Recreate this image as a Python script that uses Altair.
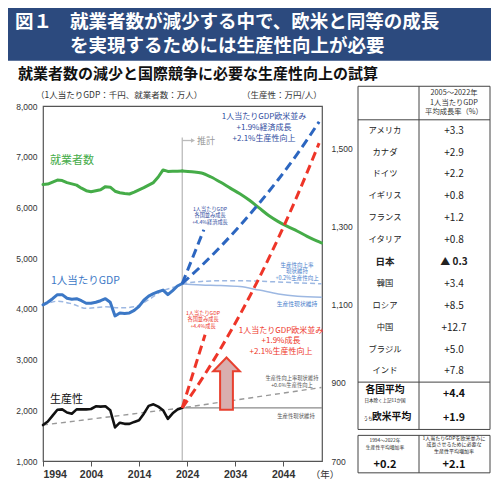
import altair as alt
import pandas as pd

# ---------------- data ----------------
years_actual = list(range(1994, 2024))
employment = [6450, 6460, 6500, 6540, 6530, 6490, 6465, 6440, 6380, 6330,
              6310, 6330, 6350, 6410, 6400, 6320, 6290, 6275, 6265, 6300,
              6345, 6390, 6440, 6490, 6600, 6740, 6710, 6715, 6715, 6720]
gdp_per_capita = [4080, 4130, 4200, 4280, 4280, 4210, 4190, 4200, 4160, 4110,
                  4110, 4130, 4160, 4200, 4130, 3860, 3920, 3910, 3920, 3970,
                  4050, 4170, 4250, 4300, 4340, 4370, 4280, 4360, 4450, 4500]
productivity = [792, 801, 816, 831, 832, 824, 821, 832, 832, 832,
                833, 840, 839, 840, 830, 786, 798, 795, 795, 800,
                804, 821, 841, 845, 839, 830, 808, 822, 832, 836]

trend_years = [1994, 1997, 2000, 2003, 2007, 2010, 2013, 2016, 2019, 2021, 2023]
gdp_trend = [4065, 4150, 4100, 4010, 4040, 4020, 4040, 4180, 4360, 4420, 4500]

emp_proj_years = [2023, 2025, 2027, 2029, 2031, 2033, 2035, 2037, 2039, 2041,
                  2043, 2045, 2047, 2049, 2051, 2052]
employment_proj = [6720, 6705, 6680, 6600, 6495, 6380, 6270, 6140, 5990, 5840,
                   5720, 5620, 5530, 5430, 5340, 5300]

west_years = [2023, 2027, 2031, 2035, 2039, 2043, 2047, 2051.5]
gdp_west = [4500, 4850, 5230, 5640, 6080, 6550, 7060, 7690]
prod_west = [836, 908, 988, 1074, 1168, 1270, 1380, 1513]

fast_years_gdp = [2023, 2027.5]
gdp_fast = [4500, 5560]
fast_years_prod = [2023, 2027.75]
prod_fast = [836, 1023]

flat_years = [2023, 2027, 2031, 2035, 2039, 2043, 2047, 2052]
gdp_prod_plus02 = [4500, 4540, 4555, 4555, 4545, 4530, 4512, 4495]
gdp_prod_flat = [4490, 4472, 4460, 4440, 4370, 4295, 4250, 4230]

prod_trend_years = [1994, 2023, 2052]
prod_trend = [792, 836, 888]
prod_flat_years = [2023, 2052]
prod_flat = [836, 836]

countries = ["アメリカ", "カナダ", "ドイツ", "イギリス", "フランス", "イタリア",
             "日本", "韓国", "ロシア", "中国", "ブラジル", "インド"]
growth = [3.3, 2.9, 2.2, 0.8, 1.2, 0.8, -0.3, 3.4, 8.5, 12.7, 5.0, 7.8]
avg_all = 4.4
avg_west = 1.9
prod_growth_past = 0.2
prod_growth_needed = 2.1

# ---------------- layout helpers ----------------
W, H = 279, 355
X0, Y0 = 43, 108
SY = H / 360.0
JP = "Noto Sans CJK JP"
LAT = "Liberation Sans"


def px(x):
    return x - X0


def py(y):
    return (y - Y0) * SY


XS = alt.Scale(domain=[1994, 2052.1], nice=False, zero=False)
YL = alt.Scale(domain=[1000, 8000], nice=False, zero=False)
YR = alt.Scale(domain=[700, 1608], nice=False, zero=False)

x_axis = alt.Axis(values=[1994, 2004, 2014, 2024, 2034, 2044], format="d",
                  labelFont=LAT, labelFontSize=10.5, labelFontWeight="bold",
                  labelColor="#333", tickSize=5, tickColor="#555",
                  domain=False, grid=False, labelPadding=3, title=None,
                  orient="bottom")
yl_axis = alt.Axis(values=list(range(1000, 9000, 1000)), format=",.0f",
                   labelFont=LAT, labelFontSize=8.5, labelColor="#333",
                   ticks=False, domain=False, grid=False, labelPadding=6,
                   title=None, orient="left")
yr_axis = alt.Axis(values=[700, 900, 1100, 1300, 1500], format=",.0f",
                   labelFont=LAT, labelFontSize=8.5, labelColor="#333",
                   ticks=False, domain=False, grid=False, labelPadding=9,
                   title=None, orient="right")

DUMMY = alt.Data(values=[{}])


def series(xs, ys, yscale, color, width, dash=None, interp="linear",
           yaxis=None):
    df = pd.DataFrame({"year": xs, "value": ys})
    mk = dict(color=color, strokeWidth=width, interpolate=interp,
              strokeJoin="round")
    if dash:
        mk["strokeDash"] = dash
        mk["strokeCap"] = "butt"
    else:
        mk["strokeCap"] = "round"
    return alt.Chart(df).mark_line(**mk).encode(
        x=alt.X("year:Q", scale=XS, axis=x_axis),
        y=alt.Y("value:Q", scale=yscale, axis=yaxis),
    )


def note(lines, x, y, size, color, align="center", weight="normal",
         lh=None, font=JP):
    """y is the centre of the (first) line, in reference page pixels."""
    kw = dict(align=align, baseline="middle", fontSize=size, color=color,
              font=font, fontWeight=weight)
    if isinstance(lines, list):
        kw["text"] = lines
        kw["lineHeight"] = (lh if lh else size * 1.25) * SY
    else:
        kw["text"] = lines
    return alt.Chart(DUMMY).mark_text(**kw).encode(
        x=alt.value(px(x)), y=alt.value(py(y)))


def box(x1, y1, x2, y2, fill, stroke=None, sw=1.0):
    kw = dict(fill=fill)
    if stroke:
        kw["stroke"] = stroke
        kw["strokeWidth"] = sw
    return alt.Chart(DUMMY).mark_rect(**kw).encode(
        x=alt.value(px(x1)), x2=alt.value(px(x2)),
        y=alt.value(py(y1)), y2=alt.value(py(y2)))


def hline(x1, x2, y, color="#444", sw=1.0):
    return alt.Chart(DUMMY).mark_rule(color=color, strokeWidth=sw).encode(
        x=alt.value(px(x1)), x2=alt.value(px(x2)), y=alt.value(py(y)))


def vline(x, y1, y2, color="#444", sw=1.0):
    return alt.Chart(DUMMY).mark_rule(color=color, strokeWidth=sw).encode(
        x=alt.value(px(x)), y=alt.value(py(y1)), y2=alt.value(py(y2)))


GREEN = "#45AC48"
BLUE = "#3C78C6"
DBLUE = "#2C66C0"
LBLUE = "#9DB8E2"
RED = "#EE3528"
NAVY = "#2F4B9E"

layers = []

# --- projection start marker ---
pivot = pd.DataFrame({"year": [2023]})
layers.append(alt.Chart(pivot).mark_rule(color="#BBBBBB", strokeWidth=1.3).encode(
    x=alt.X("year:Q", scale=XS, axis=x_axis),
    y=alt.value(py(140)), y2=alt.value(H)))
layers.append(hline(182, 192, 143, color="#BBBBBB", sw=1.3))
layers.append(alt.Chart(DUMMY).mark_point(shape="triangle-right", size=22,
                                          filled=True, color="#BBBBBB", opacity=1).encode(
    x=alt.value(px(193)), y=alt.value(py(143))))
layers.append(note("推計", 197, 143, 9, "#999999", align="left"))

# --- productivity guides (right axis) ---
layers.append(series(prod_trend_years, prod_trend, YR, "#999999", 1.4, dash=[5, 4]))
layers.append(series(prod_flat_years, prod_flat, YR, "#8A8A8A", 1.4))

# --- GDP guides (left axis) ---
layers.append(series(trend_years, gdp_trend, YL, LBLUE, 1.5, dash=[5, 3], interp="monotone"))
layers.append(series(flat_years, gdp_prod_plus02, YL, LBLUE, 1.5, dash=[5, 3], interp="monotone"))
layers.append(series(flat_years, gdp_prod_flat, YL, LBLUE, 1.5, interp="monotone"))

# --- employment ---
layers.append(series(years_actual, employment, YL, GREEN, 3, yaxis=yl_axis))
layers.append(series(emp_proj_years, employment_proj, YL, GREEN, 3, interp="monotone"))

# --- productivity actual ---
layers.append(series(years_actual, productivity, YR, "#111111", 2.6, yaxis=yr_axis))

# --- GDP per capita actual ---
layers.append(series(years_actual, gdp_per_capita, YL, BLUE, 3))

# --- projections ---
layers.append(series(west_years, gdp_west, YL, DBLUE, 3, dash=[9, 5], interp="monotone"))
layers.append(series(fast_years_gdp, gdp_fast, YL, DBLUE, 3, dash=[9, 5]))
layers.append(series(west_years, prod_west, YR, RED, 3, dash=[9, 5], interp="monotone"))
layers.append(series(fast_years_prod, prod_fast, YR, RED, 3, dash=[9, 5]))

# --- annotations in plot ---
layers.append(note("就業者数", 50, 164, 11, GREEN, align="left"))
layers.append(note("1人当たりGDP", 51, 285, 10.5, BLUE, align="left"))
layers.append(note("生産性", 50, 406, 11, "#111111", align="left"))
layers.append(note(["1人当たりGDP欧米並み", "+1.9%経済成長", "+2.1%生産性向上"],
                   264, 119.5, 8, NAVY, lh=10.8))
layers.append(note(["1人当たりGDP", "各国並み成長", "+4.4%経済成長"],
                   210, 212, 5.2, NAVY, lh=6.6))
layers.append(note(["生産性向上率", "現状維持", "+0.2%生産性向上"],
                   297, 269, 5.5, "#4A80CC", lh=6.8))
layers.append(note("生産性現状維持", 297, 309, 5.8, "#4A80CC"))
layers.append(note(["1人当たりGDP", "各国並み成長", "+4.4%成長"],
                   203, 318, 5.2, RED, lh=6.5))
layers.append(note(["1人当たりGDP欧米並み", "+1.9%成長", "+2.1%生産性向上"],
                   281, 336.5, 8, RED, lh=10.3))
layers.append(note(["生産性向上率現状維持", "+0.6%生産性向上"],
                   292, 383.5, 5.3, "#555555", lh=7.2))
layers.append(note("生産性現状維持", 296, 422, 5.4, "#555555"))
layers.append(note("（年）", 325, 482, 9.5, "#333333"))

# big up arrow
arrow_path = ("M0,-1L0.51,-0.47L0.245,-0.47L0.245,1L-0.245,1L-0.245,-0.47"
              "L-0.51,-0.47Z")
layers.append(alt.Chart(DUMMY).mark_point(shape=arrow_path, size=(53 * SY) ** 2,
                                          filled=True, fill="#D9AEAE",
                                          stroke="#E8402F", strokeWidth=2,
                                          opacity=1, fillOpacity=1).encode(
    x=alt.value(px(226.5)), y=alt.value(py(389.5))))

# --- header / titles ---
layers.append(box(0, 0, 491, 62, "#2C4A7E"))
layers.append(note("図１", 15, 23, 18.5, "white", align="left", weight="bold"))
layers.append(note("就業者数が減少する中で、欧米と同等の成長", 70, 23, 18.5, "white",
                   align="left", weight="bold"))
layers.append(note("を実現するためには生産性向上が必要", 70, 47, 18.5, "white",
                   align="left", weight="bold"))
layers.append(note("就業者数の減少と国際競争に必要な生産性向上の試算", 18, 76, 15,
                   "#111111", align="left", weight="bold"))
layers.append(note("（1人当たりGDP：千円、就業者数：万人）", 36, 97, 8.5, "#333333",
                   align="left"))
layers.append(note("（生産性：万円/人）", 242, 97, 8.5, "#333333", align="left"))

# --- table ---
TX1, TXM, TX2 = 358, 419, 490
layers.append(box(TX1, 88, TX2, 436, "white", stroke="#444444", sw=1))
layers.append(vline(TXM, 88, 436))
layers.append(hline(TX1, TX2, 122))
layers.append(hline(TX1, TX2, 388))
layers.append(box(TX1, 442, TX2, 480, "white", stroke="#444444", sw=1))
layers.append(vline(TXM, 442, 480))

layers.append(note(["2005～2022年", "1人当たりGDP", "平均成長率（%）"],
                   454, 95, 7.3, "#333333", lh=9.6))

labels = [("+%.1f" % v) if v >= 0 else ("▲ %.1f" % abs(v)) for v in growth]
tbl = pd.DataFrame({"row": list(range(len(countries))), "name": countries,
                    "label": labels,
                    "japan": [c == "日本" for c in countries]})
row_scale = alt.Scale(domain=[0, 11], range=[py(133), py(377.2)],
                      nice=False, zero=False)


def table_col(text_field, xpos, size, weight, japan):
    return alt.Chart(tbl).transform_filter(
        alt.datum.japan if japan else ~alt.datum.japan
    ).mark_text(fontSize=size, font=JP, fontWeight=weight, color="#222222",
                align="center", baseline="middle").encode(
        x=alt.value(px(xpos)),
        y=alt.Y("row:Q", scale=row_scale, axis=None),
        text=alt.Text(text_field + ":N"))


layers.append(table_col("name", 385, 8.3, "normal", False))
layers.append(table_col("name", 385, 9.5, "bold", True))
layers.append(table_col("label", 454, 10, "normal", False))
layers.append(table_col("label", 454, 10, "bold", True))

layers.append(note("各国平均", 385, 396, 9.8, "#111111", weight="bold"))
layers.append(note("日本除く上記11か国", 385, 407.5, 4.5, "#111111"))
layers.append(note("+%.1f" % avg_all, 454, 400, 10.5, "#111111", weight="bold"))
layers.append(note("うち", 368, 425, 4.5, "#111111"))
layers.append(note("欧米平均", 372, 423, 9.8, "#111111", align="left", weight="bold"))
layers.append(note("+%.1f" % avg_west, 454, 424, 10.5, "#111111", weight="bold"))

layers.append(note(["1994～2022年", "生産性平均増加率"], 385, 448, 4.8,
                   "#222222", lh=6.8))
layers.append(note(["1人当たりGDPを欧米並みに", "成長させるために必要な", "生産性平均増加率"],
                   454, 444.5, 5.0, "#222222", lh=6.5))
layers.append(note("+%.1f" % prod_growth_past, 385, 472, 11, "#111111", weight="bold"))
layers.append(note("+%.1f" % prod_growth_needed, 454, 472, 11, "#111111", weight="bold"))

chart = alt.layer(*layers).resolve_scale(y="independent").properties(
    width=W, height=H,
    autosize=alt.AutoSizeParams(type="none"),
    padding={"left": 35, "top": 98, "right": 169, "bottom": 19},
    background="white",
).configure_view(stroke="#555555", strokeWidth=1.2).configure_axis(grid=False)

chart.save("out.html", embed_options={"renderer": "svg", "actions": False})
